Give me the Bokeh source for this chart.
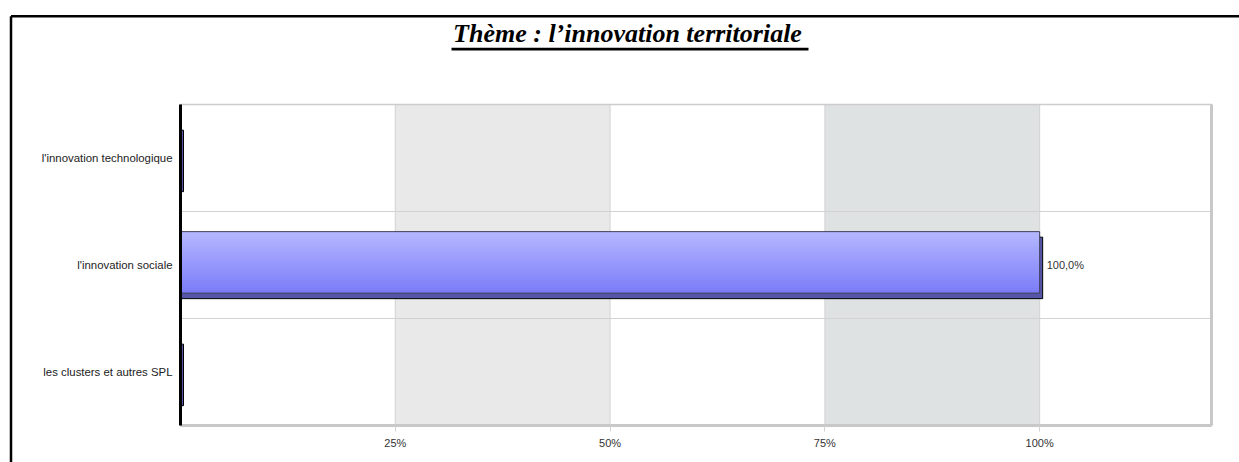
import numpy as np
from bokeh.plotting import figure
from bokeh.models import FixedTicker, BoxAnnotation, Label, Range1d, LinearAxis
from bokeh.embed import file_html
from bokeh.resources import INLINE

# ---- data ----
title_text = "Thème : l\u2019innovation territoriale"
categories = ["l'innovation technologique", "l'innovation sociale", "les clusters et autres SPL"]
values = [0.0, 100.0, 0.0]            # percent
value_labels = ["", "100,0%", ""]
x_ticks = [25, 50, 75, 100]
x_tick_labels = ["25%", "50%", "75%", "100%"]

# ---- layout constants (canvas pixels) ----
W, H = 1239, 462
FL, FR, FT, FB = 180, 1211, 104, 425   # plot-area edges
XMAX = 120.0
NCAT = len(categories)
XPX = (FR - FL) / XMAX                 # px per percent
YPX = (FB - FT) / NCAT                 # px per category

def px2x(px):
    return (px - FL) / XPX

def px2y(py):
    return NCAT - (py - FT) / YPX

p = figure(width=W, height=H, output_backend="svg", toolbar_location=None,
           x_range=Range1d(px2x(0), px2x(W)), y_range=Range1d(px2y(H), px2y(0)),
           x_axis_location=None, y_axis_location=None,
           min_border=0, background_fill_color="white", border_fill_color="white")
p.outline_line_color = None
p.grid.visible = False

# background bands
p.add_layout(BoxAnnotation(left=25, right=50, bottom=0, top=NCAT, fill_color="#e8e9e8",
                           fill_alpha=1, line_alpha=0, level="image"))
p.add_layout(BoxAnnotation(left=75, right=100, bottom=0, top=NCAT, fill_color="#dfe2e2",
                           fill_alpha=1, line_alpha=0, level="image"))

# grid lines
p.segment(x0=x_ticks, y0=[0] * len(x_ticks), x1=x_ticks, y1=[NCAT] * len(x_ticks),
          line_color="#d2d2d2", line_width=1, level="underlay")
ybounds = list(range(1, NCAT))
p.segment(x0=[0] * len(ybounds), y0=ybounds, x1=[XMAX] * len(ybounds), y1=ybounds,
          line_color="#d2d2d2", line_width=1, level="underlay")

# plot-area frame
p.add_layout(BoxAnnotation(left=0, right=XMAX, bottom=0, top=NCAT, fill_alpha=0,
                           line_color="#cccccc", line_alpha=1, line_width=1.5, level="underlay"))
p.segment(x0=[XMAX], y0=[0], x1=[XMAX], y1=[NCAT], line_color="#c8c8c8", line_width=3)

# axes (fixed inside the canvas)
ycent = [NCAT - 0.5 - i for i in range(NCAT)]
xaxis = LinearAxis(fixed_location=0, bounds=(0, XMAX))
xaxis.ticker = FixedTicker(ticks=x_ticks)
xaxis.major_label_overrides = {t: l for t, l in zip(x_ticks, x_tick_labels)}
xaxis.axis_line_color = "#c8c8c8"
xaxis.axis_line_width = 3
xaxis.major_tick_line_color = "#d2d2d2"
xaxis.major_tick_out = 6
xaxis.major_tick_in = 0
xaxis.minor_tick_line_color = None
xaxis.major_label_text_font = "Liberation Sans"
xaxis.major_label_text_font_size = "11px"
xaxis.major_label_text_color = "#333333"
xaxis.major_label_standoff = 5
p.add_layout(xaxis, "below")

yaxis = LinearAxis(fixed_location=0, bounds=(0, NCAT))
yaxis.ticker = FixedTicker(ticks=ycent)
yaxis.major_label_overrides = {y: c for y, c in zip(ycent, categories)}
yaxis.axis_line_color = "black"
yaxis.axis_line_width = 3
yaxis.major_tick_line_color = None
yaxis.major_tick_out = 0
yaxis.major_tick_in = 0
yaxis.minor_tick_line_color = None
yaxis.major_label_text_font = "Liberation Sans"
yaxis.major_label_text_font_size = "11.4px"
yaxis.major_label_text_color = "#222222"
yaxis.major_label_standoff = 8
p.add_layout(yaxis, "left")

# ---- 3D bars ----
bar_h = 61.5 / YPX
dx = 3.0 / XPX
dy = 5.5 / YPX
shift = 2.6 / YPX
vals = np.array(values)
yc = np.array(ycent)
face_c = yc + shift
face_top = face_c + bar_h / 2
face_bot = face_c - bar_h / 2

# back / side block
p.hbar(y=face_c - dy, left=0, right=vals + dx, height=bar_h,
       fill_color="#5656a8", line_color="black", line_width=1)
# front face gradient (overlapping strips)
N = 24
overlap = 1.2 / YPX
top_rgb = np.array([181, 184, 255])
bot_rgb = np.array([123, 123, 248])
for k in range(N):
    t = (k + 0.5) / N
    c = top_rgb + (bot_rgb - top_rgb) * t
    col = "#%02x%02x%02x" % tuple(int(round(v)) for v in c)
    s_top = face_top - k * bar_h / N
    s_bot = np.maximum(face_top - (k + 1) * bar_h / N - overlap, face_bot)
    p.quad(top=s_top, bottom=s_bot, left=np.zeros_like(vals), right=vals,
           fill_color=col, line_color=None)
p.hbar(y=face_c, left=0, right=vals, height=bar_h, fill_color=None,
       line_color="#3c3c55", line_width=1)

# value labels
for v, y, lab in zip(values, ycent, value_labels):
    if lab:
        p.add_layout(Label(x=v + 7.0 / XPX, y=y, text=lab, text_align="left",
                           text_baseline="middle", text_font="Liberation Sans",
                           text_font_size="11px", text_color="#333333"))

# ---- title ----
p.add_layout(Label(x=px2x(627), y=px2y(33), text=title_text, text_align="center",
                   text_baseline="alphabetic", text_font="Liberation Serif",
                   text_font_size="26px", text_font_style="bold italic",
                   text_color="black"))
p.add_layout(BoxAnnotation(left=px2x(451), right=px2x(808), top=px2y(47.3), bottom=px2y(50),
                           fill_color="black", fill_alpha=1, line_alpha=0))

# outer black border (top and left visible)
p.segment(x0=[px2x(10.5), px2x(10.5)], y0=[px2y(15.8), px2y(15.8)],
          x1=[px2x(W + 20), px2x(10.5)], y1=[px2y(15.8), px2y(H + 20)],
          line_color="black", line_width=2.5)

open("out.html", "w").write(file_html(p, INLINE))
